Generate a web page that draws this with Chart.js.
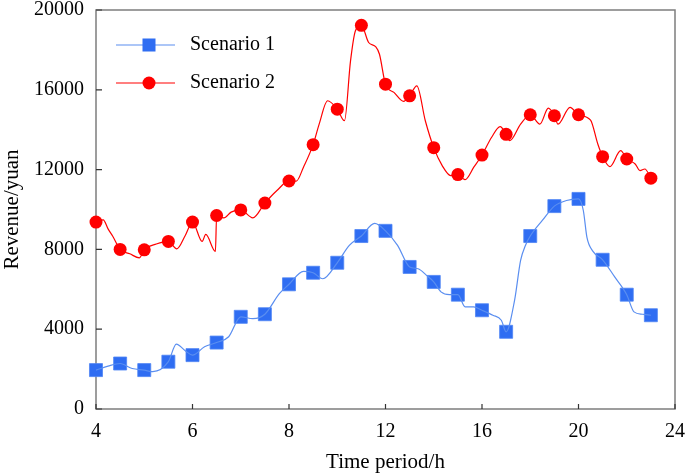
<!DOCTYPE html>
<html lang="en">
<head>
<meta charset="UTF-8">
<title>Revenue by time period</title>
<script src="https://cdn.jsdelivr.net/npm/chart.js"></script>
<style>
  body { margin: 0; background: #fff; }
  #wrap { width: 685px; height: 475px; position: relative; }
</style>
</head>
<body>
<div id="wrap"><canvas id="revenue"></canvas></div>
<script>
  // x axis labels (as printed on the figure, one every 4 steps)
  const xTickLabels = ['4', '6', '8', '12', '16', '20', '24'];
  const yTicks = [0, 4000, 8000, 12000, 16000, 20000];

  // hourly steps 0..23
  const hours = [0, 1, 2, 3, 4, 5, 6, 7, 8, 9, 10, 11, 12, 13, 14, 15, 16, 17, 18, 19, 20, 21, 22, 23];

  // marker values
  const scenario1 = [1950, 2280, 1950, 2370, 2700, 3330, 4620, 4750, 6250, 6830, 7330, 8670,
                     8930, 7120, 6370, 5730, 4950, 3870, 8670, 10170, 10530, 7480, 5730, 4700];
  const scenario2 = [9370, 8000, 7980, 8400, 9370, 9700, 9980, 10320, 11430, 13250, 15030, 19230,
                     16280, 15700, 13100, 11750, 12730, 13770, 14750, 14700, 14750, 12650, 12530, 11570];

  // in-between points of the drawn curves (they wiggle between markers)
  const s1MidX = [0.5, 1.5, 2.35, 3.33, 3.7, 4.5, 5.5, 6.5, 7.6, 8.6, 9.4, 10.5, 11.55, 12.5, 13.35, 13.7,
                  14.3, 14.65, 15.3, 15.65, 16.45, 16.8, 17.35, 17.6, 17.8, 18.5, 19.5, 20.2, 20.35, 20.6,
                  21.5, 22.3, 22.65];
  const s1MidY = [2150, 2030, 1870, 3250, 2920, 3120, 3620, 4530, 5780, 6900, 6530, 8200, 9300, 8200, 7030, 6700,
                  5870, 5730, 5120, 5120, 4700, 4450, 5450, 7450, 8200, 9450, 10450, 9950, 8600, 7900,
                  6620, 4870, 4750];
  const s2MidX = [0.3, 0.5, 0.7, 1.4, 1.8, 2.5, 3.35, 3.7, 4.4, 4.55, 4.95, 5.3, 5.6, 6.5, 7.5, 8.3, 8.6,
                  9.25, 9.6, 10.3, 10.55, 10.75, 11.3, 11.6, 11.75, 12.35, 12.75, 13.3, 13.65, 14.35, 14.7,
                  15.3, 15.66, 16.4, 16.75, 17.15, 17.6, 18.4, 18.75, 19.15, 19.65, 20.5, 20.8, 21.3, 21.75,
                  22.35, 22.55, 22.75];
  const s2MidY = [9480, 9030, 8650, 7780, 7580, 8270, 8030, 8700, 8400, 8750, 7900, 9580, 9870, 9580, 10950, 11420, 12120,
                  14280, 15450, 14450, 17450, 18950, 18370, 18150, 17780, 15870, 15420, 16200, 14450, 12200, 11700,
                  11500, 12120, 13620, 14150, 13450, 14280, 14280, 15080, 14280, 15120, 14480, 13280, 12150, 12950,
                  12280, 11950, 12030];

  const seriesNames = ['Scenario 1', 'Scenario 2'];

  const BLUE_LINE = '#5a8ef0';
  const BLUE_MARK = '#2f6df2';
  const RED = '#ff0000';
  const FRAME = '#7d7d7d';
  const SERIF = '"Liberation Serif", "Times New Roman", serif';

  function toPoints(xs, ys) {
    return xs.map((x, i) => ({ x: x, y: ys[i] }));
  }

  function curve(markY, midX, midY) {
    const pts = toPoints(hours, markY).concat(toPoints(midX, midY));
    pts.sort((a, b) => a.x - b.x);
    return pts;
  }

  // frame, inward tick marks and the legend inside the plot
  const decor = {
    id: 'decor',
    beforeDatasetsDraw(chart) {
      const ctx = chart.ctx;
      const a = chart.chartArea;
      const xs = chart.scales.x;
      const ys = chart.scales.y;
      ctx.save();
      ctx.strokeStyle = FRAME;
      ctx.lineWidth = 1.5;
      ctx.strokeRect(a.left, a.top, a.right - a.left, a.bottom - a.top);
      ctx.lineWidth = 1.2;
      ctx.strokeStyle = '#333';
      ctx.beginPath();
      yTicks.forEach(v => {
        const y = ys.getPixelForValue(v);
        ctx.moveTo(a.left, y);
        ctx.lineTo(a.left + 6, y);
      });
      xTickLabels.forEach((lab, i) => {
        const x = xs.getPixelForValue(i * 4);
        ctx.moveTo(x, a.bottom);
        ctx.lineTo(x, a.bottom - 5);
      });
      ctx.stroke();
      ctx.restore();
    },
    afterDraw(chart) {
      const ctx = chart.ctx;
      const a = chart.chartArea;
      ctx.save();
      const rows = [
        { y: a.top + 35, line: BLUE_LINE, mark: BLUE_MARK, shape: 'rect' },
        { y: a.top + 73, line: RED, mark: RED, shape: 'circle' }
      ];
      rows.forEach((r, i) => {
        const x0 = a.left + 20, x1 = a.left + 79, xm = a.left + 53;
        ctx.strokeStyle = r.line;
        ctx.lineWidth = 1.2;
        ctx.beginPath();
        ctx.moveTo(x0, r.y);
        ctx.lineTo(x1, r.y);
        ctx.stroke();
        ctx.fillStyle = r.mark;
        if (r.shape === 'rect') {
          ctx.fillRect(xm - 6.5, r.y - 6.5, 13, 13);
        } else {
          ctx.beginPath();
          ctx.arc(xm, r.y, 6.5, 0, Math.PI * 2);
          ctx.fill();
        }
        ctx.fillStyle = '#000';
        ctx.font = '20px ' + SERIF;
        ctx.textBaseline = 'middle';
        ctx.textAlign = 'left';
        ctx.fillText(seriesNames[i], a.left + 94, r.y);
      });
      ctx.restore();
    }
  };

  new Chart(document.getElementById('revenue'), {
    type: 'line',
    data: {
      datasets: [
        {
          label: seriesNames[0] + ' curve',
          data: curve(scenario1, s1MidX, s1MidY),
          borderColor: BLUE_LINE,
          borderWidth: 1.2,
          pointRadius: 0,
          cubicInterpolationMode: 'monotone',
          fill: false
        },
        {
          label: seriesNames[1] + ' curve',
          data: curve(scenario2, s2MidX, s2MidY),
          borderColor: RED,
          borderWidth: 1.2,
          pointRadius: 0,
          cubicInterpolationMode: 'monotone',
          fill: false
        },
        {
          label: seriesNames[0],
          data: toPoints(hours, scenario1),
          showLine: false,
          clip: false,
          pointStyle: 'rect',
          pointRadius: 9.2,
          pointBackgroundColor: BLUE_MARK,
          pointBorderColor: '#4f85f5',
          pointBorderWidth: 0.8
        },
        {
          label: seriesNames[1],
          data: toPoints(hours, scenario2),
          showLine: false,
          clip: false,
          pointStyle: 'circle',
          pointRadius: 6.5,
          pointBackgroundColor: RED,
          pointBorderColor: RED,
          pointBorderWidth: 0
        }
      ]
    },
    options: {
      responsive: true,
      maintainAspectRatio: false,
      animation: false,
      devicePixelRatio: 1,
      layout: { padding: { top: 9, right: 8, left: 0, bottom: 0 } },
      plugins: {
        legend: { display: false },
        tooltip: { enabled: false }
      },
      scales: {
        x: {
          type: 'linear',
          min: 0,
          max: 24,
          border: { display: false },
          grid: { display: false, drawTicks: false },
          ticks: {
            stepSize: 4,
            padding: 11,
            color: '#000',
            font: { family: SERIF, size: 20 },
            maxRotation: 0,
            callback: v => xTickLabels[v / 4]
          },
          title: {
            display: true,
            text: 'Time period/h',
            color: '#000',
            font: { family: SERIF, size: 21 },
            padding: { top: 0, bottom: 0 }
          },
          afterFit: s => { s.height = 66; s.paddingLeft = 0; s.paddingRight = 0; }
        },
        y: {
          min: 0,
          max: 20000,
          border: { display: false },
          grid: { display: false, drawTicks: false },
          ticks: {
            stepSize: 4000,
            padding: 12,
            color: '#000',
            font: { family: SERIF, size: 20 },
            callback: v => String(v)
          },
          title: {
            display: true,
            text: 'Revenue/yuan',
            color: '#000',
            font: { family: SERIF, size: 21 },
            padding: { top: 0, bottom: 0 }
          },
          afterFit: s => { s.width = 96; s.paddingTop = 0; s.paddingBottom = 0; }
        }
      }
    },
    plugins: [decor]
  });
</script>
</body>
</html>
